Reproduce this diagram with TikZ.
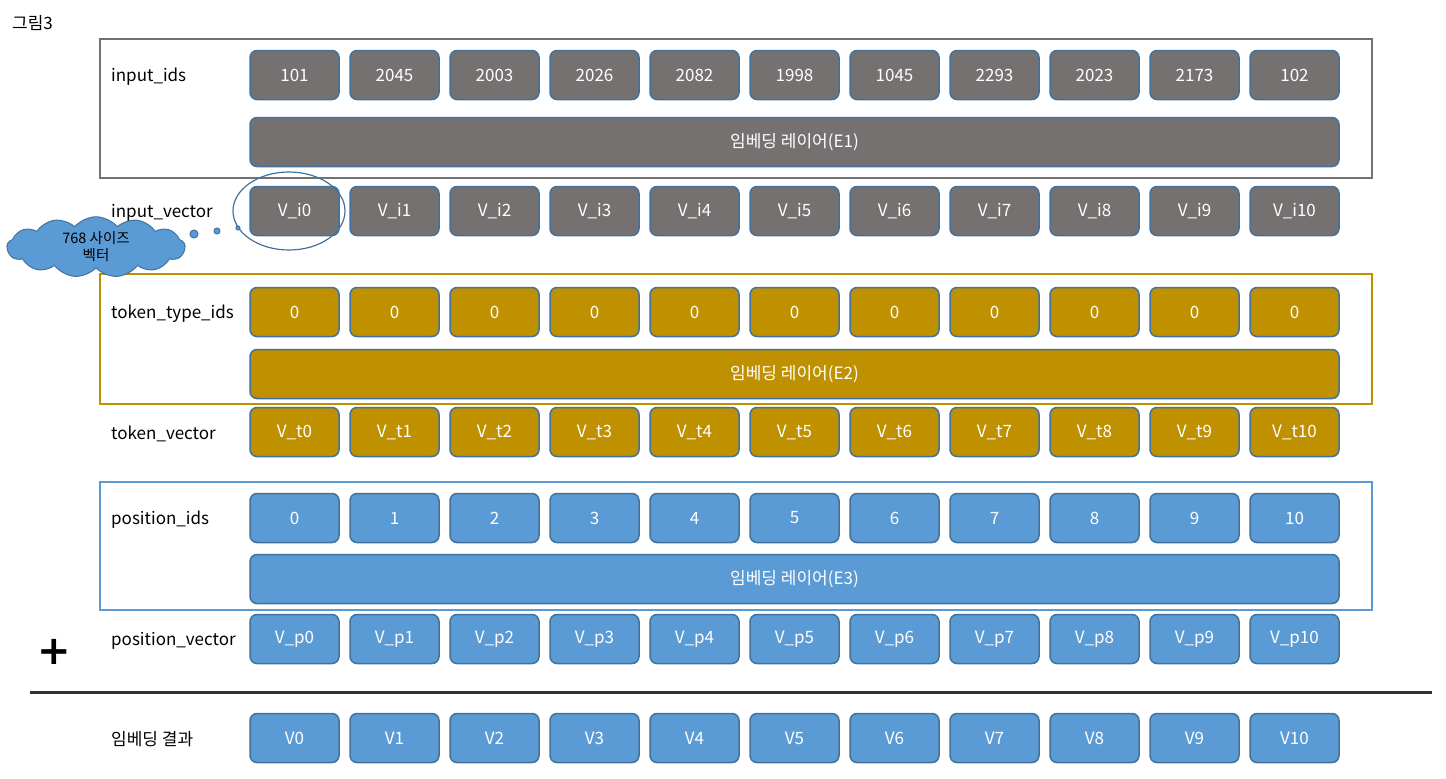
\documentclass[tikz,border=0pt]{standalone}
\usepackage{fontspec}
\setmainfont{Noto Sans CJK KR}
\newfontfamily\plusfont{DejaVu Sans}
\usetikzlibrary{shapes.symbols}
\definecolor{grayF}{HTML}{767171}
\definecolor{bordB}{HTML}{41719C}
\definecolor{goldF}{HTML}{BF9000}
\definecolor{blueF}{HTML}{5B9BD5}
\definecolor{lineK}{HTML}{333333}
\begin{document}
\begin{tikzpicture}[x=1pt,y=-1pt,
  cell/.style={draw=bordB, line width=1.5pt, rounded corners=7pt, minimum width=89pt, minimum height=49pt, text=white, font=\fontsize{17}{20}\selectfont, inner sep=0pt},
  bar/.style={cell, minimum width=1089pt},
  frame/.style={draw, line width=1.5pt, minimum width=1272pt, inner sep=0pt, fill=none},
  lbl/.style={anchor=west, font=\fontsize{17}{20}\selectfont, inner sep=0pt},
  bubble/.style={draw=bordB, fill=blueF, line width=1pt}]
\useasboundingbox (0,0) rectangle (1446,779);
\node[anchor=west, font=\fontsize{17}{20}\selectfont, inner sep=0pt] (title) at (12,23) {그림3};
% frames
\node[frame, draw=grayF, minimum height=139pt] (F1) at (736,108.5) {};
\node[frame, draw=goldF, minimum height=130pt] (F2) at (736,339) {};
\node[frame, draw=blueF, minimum height=128pt] (F3) at (736,546) {};
% labels
\node[lbl] (Lids) at (111,76.5) {input\_ids};
\node[lbl] (Lvec) at (111,212.5) {input\_vector};
\node[lbl] (Ltt) at (111,313.5) {token\_type\_ids};
\node[lbl] (Ltv) at (111,433.5) {token\_vector};
\node[lbl] (Lpi) at (111,519.5) {position\_ids};
\node[lbl] (Lpv) at (111,640.5) {position\_vector};
\node[lbl] (Lres) at (111,739) {임베딩 결과};
% rows
\foreach \v [count=\i from 0] in {101,2045,2003,2026,2082,1998,1045,2293,2023,2173,102}
  \node[cell, fill=grayF] (id\i) at (294.5+100*\i,75) {\v};
\foreach \i in {0,...,10} {
  \node[cell, fill=grayF] (vi\i) at (294.5+100*\i,211) {V\_i\i};
  \node[cell, fill=goldF] (tt\i) at (294.5+100*\i,312) {0};
  \node[cell, fill=goldF] (vt\i) at (294.5+100*\i,432) {V\_t\i};
  \node[cell, fill=blueF] (pi\i) at (294.5+100*\i,518) {\i};
  \node[cell, fill=blueF] (vp\i) at (294.5+100*\i,639) {V\_p\i};
  \node[cell, fill=blueF] (v\i) at (294.5+100*\i,738) {V\i};
}
\node[bar, fill=grayF] (E1) at (794.5,142) {임베딩 레이어(E1)};
\node[bar, fill=goldF] (E2) at (794.5,374) {임베딩 레이어(E2)};
\node[bar, fill=blueF] (E3) at (794.5,579) {임베딩 레이어(E3)};
% plus and separator
\node[font=\plusfont\bfseries\fontsize{40}{40}\selectfont, inner sep=0pt] (plus) at (54,652) {+};
\coordinate (sepL) at (30,692);
\coordinate (sepR) at (1432,692);
\draw[lineK, line width=3pt] (sepL) -- (sepR);
% callout
\draw[bordB, line width=1.2pt] (vi0.center) ++(-5.5,0) ellipse [x radius=56, y radius=39];
\node[cloud, cloud puffs=13, cloud puff arc=100, aspect=4, fill=blueF, draw=bordB, line width=1pt, minimum width=178pt, minimum height=46pt, inner sep=0pt, align=center, font=\fontsize{14.5}{17}\selectfont] (cloud) at (96,247) {768 사이즈\\벡터};
\draw[bubble] (194,234) circle [radius=4];
\draw[bubble] (217,231) circle [radius=3];
\draw[bubble] (238,228) circle [radius=2];
\end{tikzpicture}
\end{document}
